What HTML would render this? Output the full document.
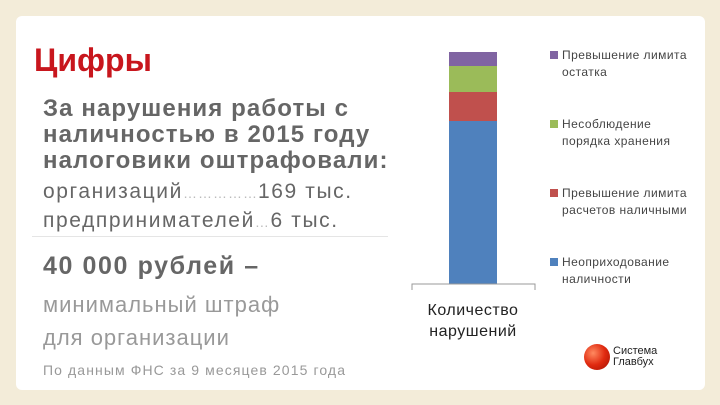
<!DOCTYPE html>
<html><head><meta charset="utf-8"><style>
body{margin:0;width:720px;height:405px;background:#f3ecd9;font-family:"Liberation Sans","DejaVu Sans",sans-serif;overflow:hidden;position:relative}
.card{position:absolute;left:16px;top:16px;width:689px;height:374px;background:#fff;border-radius:6px}
.t{position:absolute;white-space:nowrap}
</style></head><body>
<div class="card"></div>
<div class="t" style="left:34px;top:42px;font-size:32px;font-weight:bold;color:#c8161d">Цифры</div>
<div class="t" style="left:43px;top:96px;font-size:24px;font-weight:bold;color:#666;line-height:26px;letter-spacing:1.1px">За нарушения работы с<br>наличностью в 2015 году<br>налоговики оштрафовали:</div>
<div class="t" style="left:43px;top:178px;font-size:21px;color:#666;line-height:27px;letter-spacing:1.6px">организаций<span style="color:#bbb;font-size:14px;letter-spacing:1px">……………</span>169 тыс.<br>предпринимателей<span style="color:#bbb;font-size:14px">…</span>6 тыс.</div>
<div style="position:absolute;left:32px;top:236px;width:356px;height:1px;background:#e5e5e5"></div>
<div class="t" style="left:43px;top:252px;font-size:25px;font-weight:bold;color:#666;letter-spacing:1.6px">40 000 рублей –</div>
<div class="t" style="left:43px;top:288px;font-size:22px;color:#999;line-height:33px;letter-spacing:1px">минимальный штраф<br>для организации</div>
<div class="t" style="left:43px;top:362px;font-size:14px;color:#999;letter-spacing:1.1px">По данным ФНС за 9 месяцев 2015 года</div>
<svg id="chart" width="720" height="405" style="position:absolute;left:0;top:0"></svg>
<div class="t" style="left:584px;top:344px">
<div style="position:absolute;left:0;top:0;width:26px;height:26px;border-radius:50%;background:radial-gradient(circle at 35% 35%,#ff8a60,#e02a10 50%,#a01000)"></div>
<div style="position:absolute;left:29px;top:2px;font-size:11px;line-height:11px;color:#222">Система<br>Главбух</div></div>
<script>
const categories=["Количество нарушений"];
const seriesNames=["Неоприходование наличности","Превышение лимита расчетов наличными","Несоблюдение порядка хранения","Превышение лимита остатка"];
const seriesValues=[163,29,26,14];
const colors=["#4f81bd","#c0504d","#9bbb59","#8064a2"];
const svg=document.getElementById('chart');const NS="http://www.w3.org/2000/svg";
const y0=284,plotH=232,maxV=232;
const total=seriesValues.reduce((a,b)=>a+b,0);
const yScale=v=>v/Math.max(maxV,total)*plotH;
function mk(t,a){const e=document.createElementNS(NS,t);for(const k in a)e.setAttribute(k,a[k]);svg.appendChild(e);return e;}
let acc=0;
seriesValues.forEach((v,i)=>{const h=yScale(v);const r=mk('rect',{x:449,y:y0-yScale(acc)-h,width:48,height:h,fill:colors[i]});

acc+=v;});
const ax=mk('path',{d:'M412 290V284H535V290',stroke:'#999',fill:'none','stroke-width':1});


const words=categories[0].split(' ');
words.forEach((w,i)=>{const t=mk('text',{x:473,y:315+i*21,'text-anchor':'middle','font-size':16,'letter-spacing':0.5,fill:'#222','font-family':'Liberation Sans, sans-serif'});t.textContent=w;

});
const legendLines=[["Превышение лимита","остатка"],["Несоблюдение","порядка хранения"],["Превышение лимита","расчетов наличными"],["Неоприходование","наличности"]];
legendLines.forEach((ls,j)=>{const i=3-j;const ly=52+j*69;
const s=mk('rect',{x:550,y:ly-1,width:8,height:8,fill:colors[i]});


ls.forEach((l,k)=>{const t=mk('text',{x:562,y:ly+7+k*17,'font-size':12,'letter-spacing':0.45,fill:'#444','font-family':'Liberation Sans, sans-serif'});t.textContent=l;

});});
</script>
</body></html>
